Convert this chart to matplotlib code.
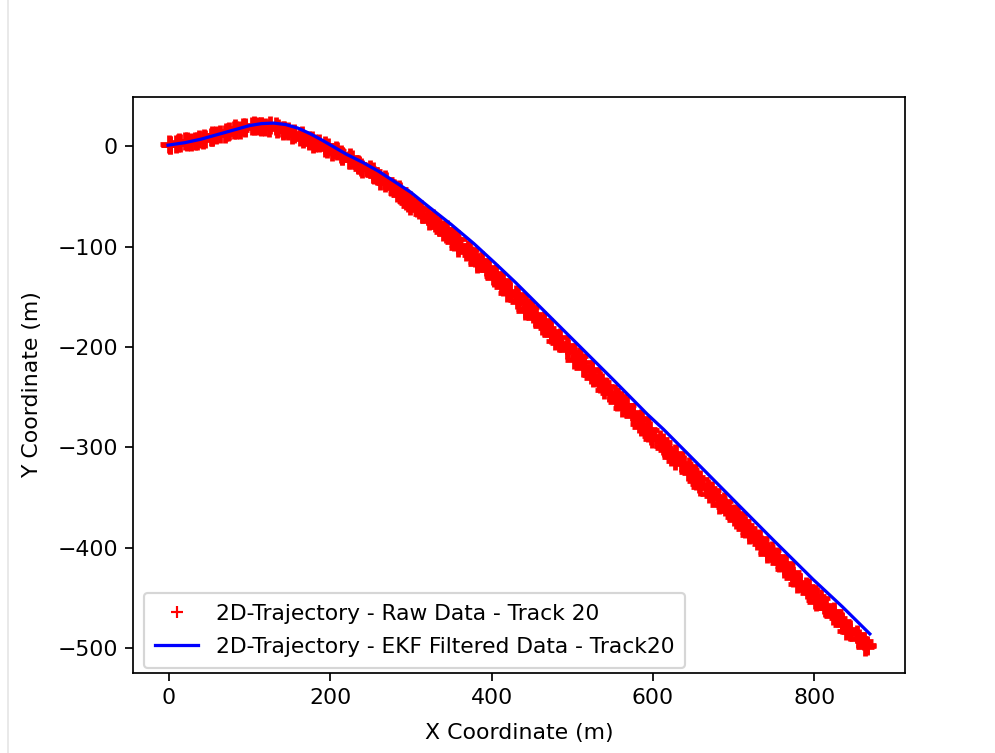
import matplotlib
matplotlib.use("Agg")
import matplotlib.pyplot as plt
from matplotlib.lines import Line2D

# raw track 20 positions (m) - the band is dense,
# so the points are listed in two passes along the track
raw_x_a = [0, 2, 11, 9, 20, 22, 33, 37, 42, 53, 52, 63, 70, 71, 83, 81, 92, 94,
           105, 109, 114, 125, 124, 135, 142, 143, 155, 153, 164, 166, 177, 181,
           186, 197, 196, 207, 214, 215, 227, 225, 236, 238, 249, 253, 258, 269,
           268, 279, 286, 287, 299, 297, 308, 310, 321, 325, 330, 341, 340, 351,
           358, 359, 371, 369, 380, 382, 393, 397, 402, 413, 412, 423, 430, 431,
           443, 441, 452, 454, 465, 469, 474, 485, 484, 495, 502, 503, 515, 513,
           524, 526, 537, 541, 546, 557, 556, 567, 574, 575, 587, 585, 596, 598,
           609, 613, 618, 629, 628, 639, 646, 647, 659, 657, 668, 670, 681, 685,
           690, 701, 700, 711, 718, 719, 731, 729, 740, 742, 753, 757, 762, 773,
           772, 783, 790, 791, 803, 801, 812, 814, 825, 829, 834, 845, 844, 855,
           862, 863, 866]
raw_y_a = [1.8, 0.7, 2.8, 2.6, 5.1, 4.3, 5.4, 6.9, 6.2, 8.9, 9.4, 12.6, 12.4,
           14.2, 16.5, 16.1, 18.6, 18.6, 20.9, 19.6, 20.1, 20.6, 18.2, 18.5, 16.3,
           16.5, 13.1, 11.6, 10.4, 6.7, 6.2, 3.1, 2.7, -1.1, -2.9, -4.3, -8.3,
           -9.6, -13.2, -14.2, -18.6, -21.0, -23.0, -27.5, -29.8, -34.4, -36.4,
           -41.7, -45.0, -48.2, -54.1, -56.9, -61.8, -64.1, -69.7, -73.4, -76.8,
           -82.7, -85.6, -90.6, -92.9, -98.7, -102.4, -105.8, -111.8, -115.1,
           -120.6, -123.4, -129.6, -133.8, -137.7, -144.1, -147.4, -153.0, -156.1,
           -162.6, -167.0, -171.1, -177.7, -181.3, -187.0, -190.1, -196.5, -201.0,
           -205.1, -211.7, -215.3, -221.0, -224.1, -230.6, -235.0, -239.1, -245.7,
           -249.3, -255.1, -258.1, -264.6, -269.0, -273.1, -279.8, -283.3, -289.0,
           -292.0, -298.4, -302.8, -306.8, -313.4, -316.9, -322.6, -325.6, -332.0,
           -336.4, -340.4, -347.0, -350.5, -356.2, -359.2, -365.6, -370.0, -374.0,
           -380.7, -384.3, -390.1, -393.2, -399.7, -404.2, -408.3, -415.0, -418.6,
           -424.4, -427.5, -433.9, -438.2, -442.0, -448.5, -451.8, -457.3, -460.2,
           -466.4, -470.6, -474.6, -481.0, -484.2, -489.8, -492.6, -498.9, -498.5]
raw_x_b = [1, 13, 14, 28, 22, 35, 45, 43, 54, 54, 59, 73, 74, 88, 82, 95, 105,
           103, 114, 114, 119, 133, 134, 148, 142, 155, 165, 163, 174, 174, 179,
           193, 194, 208, 202, 215, 225, 223, 234, 234, 239, 253, 254, 268, 262,
           275, 285, 283, 294, 294, 299, 313, 314, 328, 322, 335, 345, 343, 354,
           354, 359, 373, 374, 388, 382, 395, 405, 403, 414, 414, 419, 433, 434,
           448, 442, 455, 465, 463, 474, 474, 479, 493, 494, 508, 502, 515, 525,
           523, 534, 534, 539, 553, 554, 568, 562, 575, 585, 583, 594, 594, 599,
           613, 614, 628, 622, 635, 645, 643, 654, 654, 659, 673, 674, 688, 682,
           695, 705, 703, 714, 714, 719, 733, 734, 748, 742, 755, 765, 763, 774,
           774, 779, 793, 794, 808, 802, 815, 825, 823, 834, 834, 839, 853, 854,
           866]
raw_y_b = [1.3, 3.8, 3.6, 3.7, 5.6, 5.0, 7.6, 7.9, 8.7, 11.2, 11.3, 14.4, 15.0,
           15.8, 18.2, 18.0, 20.4, 19.9, 19.5, 20.5, 18.7, 19.6, 17.6, 15.5, 14.9,
           11.8, 11.5, 8.7, 6.2, 5.3, 1.8, 1.3, -1.8, -4.6, -5.7, -9.4, -10.4,
           -14.0, -17.4, -19.1, -23.2, -24.3, -28.3, -32.6, -35.2, -40.3, -42.3,
           -47.0, -51.7, -54.7, -60.0, -62.4, -67.3, -72.0, -75.0, -80.5, -82.9,
           -88.0, -92.7, -95.7, -101.2, -103.6, -108.7, -113.7, -117.2, -123.1,
           -126.0, -131.5, -136.8, -140.3, -146.2, -149.2, -154.9, -160.4, -164.1,
           -170.3, -173.4, -179.2, -184.6, -188.4, -194.5, -197.7, -203.5, -208.9,
           -212.7, -218.8, -222.0, -227.8, -233.2, -237.0, -243.1, -246.3, -252.1,
           -257.5, -261.3, -267.4, -270.6, -276.4, -281.8, -285.5, -291.6, -294.7,
           -300.4, -305.8, -309.5, -315.6, -318.7, -324.4, -329.8, -333.5, -339.6,
           -342.7, -348.4, -353.8, -357.5, -363.6, -366.7, -372.4, -377.9, -381.7,
           -387.9, -391.1, -396.9, -402.4, -406.2, -412.4, -415.6, -421.4, -426.9,
           -430.6, -436.7, -439.6, -445.2, -450.4, -453.9, -459.9, -462.8, -468.3,
           -473.6, -477.2, -483.1, -486.0, -491.5, -496.8]

# EKF estimate
ekf_x = [-1, 20, 40, 60, 80, 100, 115, 130, 145, 160, 175, 190, 205, 220, 240,
         260, 283, 300, 320, 350, 378, 405, 430, 465, 500, 550, 593, 613, 660,
         708, 750, 799, 835, 869]
ekf_y = [1, 3.5, 7, 11.5, 16, 20.5, 22.5, 23, 21.5, 18, 12.5, 6, -1, -8, -16,
         -25, -37, -46, -59, -78, -97, -117, -136, -164, -192, -232, -267, -282,
         -320, -359, -393, -432, -459, -486]

raw_x = raw_x_a + raw_x_b
raw_y = raw_y_a + raw_y_b

plt.rcParams["font.size"] = 10.2

fig = plt.figure(figsize=(6.4, 4.84), dpi=155.6)
fig.subplots_adjust(left=0.1335, right=0.9087, top=0.8712, bottom=0.1062)
ax = fig.add_subplot(111)

ax.plot(raw_x, raw_y, "r+", markersize=8.5, markeredgewidth=2.2,
        label="2D-Trajectory - Raw Data - Track 20")
ax.plot(ekf_x, ekf_y, "b-", label="2D-Trajectory - EKF Filtered Data - Track20")

ax.set_xlabel("X Coordinate (m)", labelpad=7)
ax.set_ylabel("Y Coordinate (m)", labelpad=7)
ax.set_xticks([0, 200, 400, 600, 800])
ax.set_yticks([0, -100, -200, -300, -400, -500])

leg = ax.legend(loc="lower left", bbox_to_anchor=(0.0142, 0.0087),
                borderaxespad=0, fontsize=10.1, labelspacing=0.6, borderpad=0.5)
leg.legend_handles[0].set_markersize(6)
leg.legend_handles[0].set_markeredgewidth(1.0)

# faint screenshot edge on the left
fig.add_artist(Line2D([0.0085, 0.0085], [0, 1], color="#e6e6e6", lw=0.8))

fig.savefig("out.png", dpi=155.6)
